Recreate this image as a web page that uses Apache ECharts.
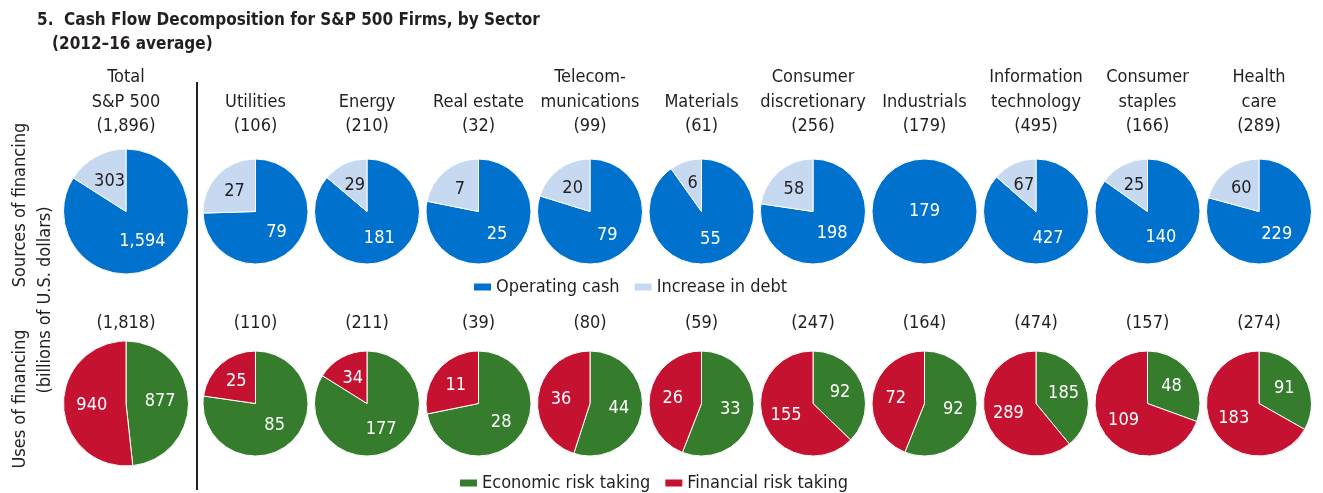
<!DOCTYPE html>
<html>
<head>
<meta charset="utf-8">
<script src="https://cdn.jsdelivr.net/npm/echarts@6/dist/echarts.min.js"></script>
<style>
html,body{margin:0;padding:0;background:#fff;}
#chart{width:1323px;height:493px;}
</style>
</head>
<body>
<div id="chart"></div>
<script>
const sectors = ['Total\nS&P 500','Utilities','Energy','Real estate','Telecom-\nmunications','Materials','Consumer\ndiscretionary','Industrials','Information\ntechnology','Consumer\nstaples','Health\ncare'];
const sourcesTotal = [1896,106,210,32,99,61,256,179,495,166,289];
const usesTotal = [1818,110,211,39,80,59,247,164,474,157,274];
const operatingCash = [1594,79,181,25,79,55,198,179,427,140,229];
const increaseInDebt = [303,27,29,7,20,6,58,0,67,25,60];
const economicRisk = [877,85,177,28,44,33,92,92,185,48,91];
const financialRisk = [940,25,34,11,36,26,155,72,289,109,183];
const sourceNames = ['Operating cash','Increase in debt'];
const useNames = ['Economic risk taking','Financial risk taking'];

const FONT = "'Liberation Sans Narrow','Arial Narrow','DejaVu Sans Condensed',sans-serif";
const TXT = '#231f20';
const C_OP = '#0072ce', C_DEBT = '#c6d9f1', C_ECO = '#367c2d', C_FIN = '#c41230';
const FS = 18;

const fmt = v => v.toLocaleString('en-US');
const colX = i => i === 0 ? 126 : 255.5 + 111.5 * (i - 1);
const ROW1 = 211.5, ROW2 = 403.5;
const rad = i => i === 0 ? 62.5 : 52.5;

const series = [];
function makePie(i, cy, vals, names, colors, labelColors) {
  const total = vals[0] + vals[1];
  const data = [];
  vals.forEach((v, k) => {
    if (v <= 0) return;
    data.push({
      name: names[k], value: v,
      itemStyle: { color: colors[k] },
      label: { color: labelColors[k], position: v === total ? 'center' : 'inside' }
    });
  });
  series.push({
    type: 'pie', center: [colX(i), cy], radius: [0, rad(i)],
    startAngle: 90, clockwise: true, avoidLabelOverlap: false,
    animation: false, silent: true,
    itemStyle: { borderColor: '#fff', borderWidth: 1 },
    label: { show: true, formatter: p => fmt(p.value), fontFamily: FONT, fontSize: FS },
    labelLine: { show: false },
    emphasis: { disabled: true },
    data
  });
}
sectors.forEach((s, i) => {
  makePie(i, ROW1, [operatingCash[i], increaseInDebt[i]], sourceNames, [C_OP, C_DEBT], ['#fff', TXT]);
  makePie(i, ROW2, [economicRisk[i], financialRisk[i]], useNames, [C_ECO, C_FIN], ['#fff', '#fff']);
});

const graphics = [];
graphics.push({ type: 'text', left: 37, top: 12, style: { text: '5.  Cash Flow Decomposition for S&P 500 Firms, by Sector', font: "bold 17px " + FONT, fill: TXT } });
graphics.push({ type: 'text', left: 52, top: 36, style: { text: '(2012–16 average)', font: "bold 17px " + FONT, fill: TXT } });
sectors.forEach((s, i) => {
  graphics.push({ type: 'text', x: colX(i), y: 139, style: { text: s + '\n(' + fmt(sourcesTotal[i]) + ')', font: FS + "px " + FONT, fill: TXT, textAlign: 'center', textVerticalAlign: 'bottom', lineHeight: 24.5 } });
  graphics.push({ type: 'text', x: colX(i), y: 323, style: { text: '(' + fmt(usesTotal[i]) + ')', font: FS + "px " + FONT, fill: TXT, textAlign: 'center', textVerticalAlign: 'middle' } });
});
graphics.push({ type: 'line', shape: { x1: 197, y1: 82, x2: 197, y2: 490 }, style: { stroke: TXT, lineWidth: 2 } });
graphics.push({ type: 'text', x: 20, y: 205, rotation: Math.PI / 2, style: { text: 'Sources of financing', font: FS + "px " + FONT, fill: TXT, textAlign: 'center', textVerticalAlign: 'middle' } });
graphics.push({ type: 'text', x: 20, y: 399, rotation: Math.PI / 2, style: { text: 'Uses of financing', font: FS + "px " + FONT, fill: TXT, textAlign: 'center', textVerticalAlign: 'middle' } });
graphics.push({ type: 'text', x: 45, y: 300, rotation: Math.PI / 2, style: { text: '(billions of U.S. dollars)', font: FS + "px " + FONT, fill: TXT, textAlign: 'center', textVerticalAlign: 'middle' } });

const legendCommon = { itemWidth: 19, itemHeight: 9, itemGap: 13, icon: 'rect', selectedMode: false, textStyle: { fontFamily: FONT, fontSize: FS, color: TXT, padding: [0, 0, 0, -1] }, padding: 0 };
const option = {
  backgroundColor: '#fff',
  animation: false,
  legend: [
    Object.assign({ data: sourceNames, left: 472, top: 278 }, legendCommon),
    Object.assign({ data: useNames, left: 458, top: 474 }, legendCommon)
  ],
  graphic: graphics,
  series
};
const chart = echarts.init(document.getElementById('chart'), null, { renderer: 'canvas' });
chart.setOption(option);
</script>
</body>
</html>
